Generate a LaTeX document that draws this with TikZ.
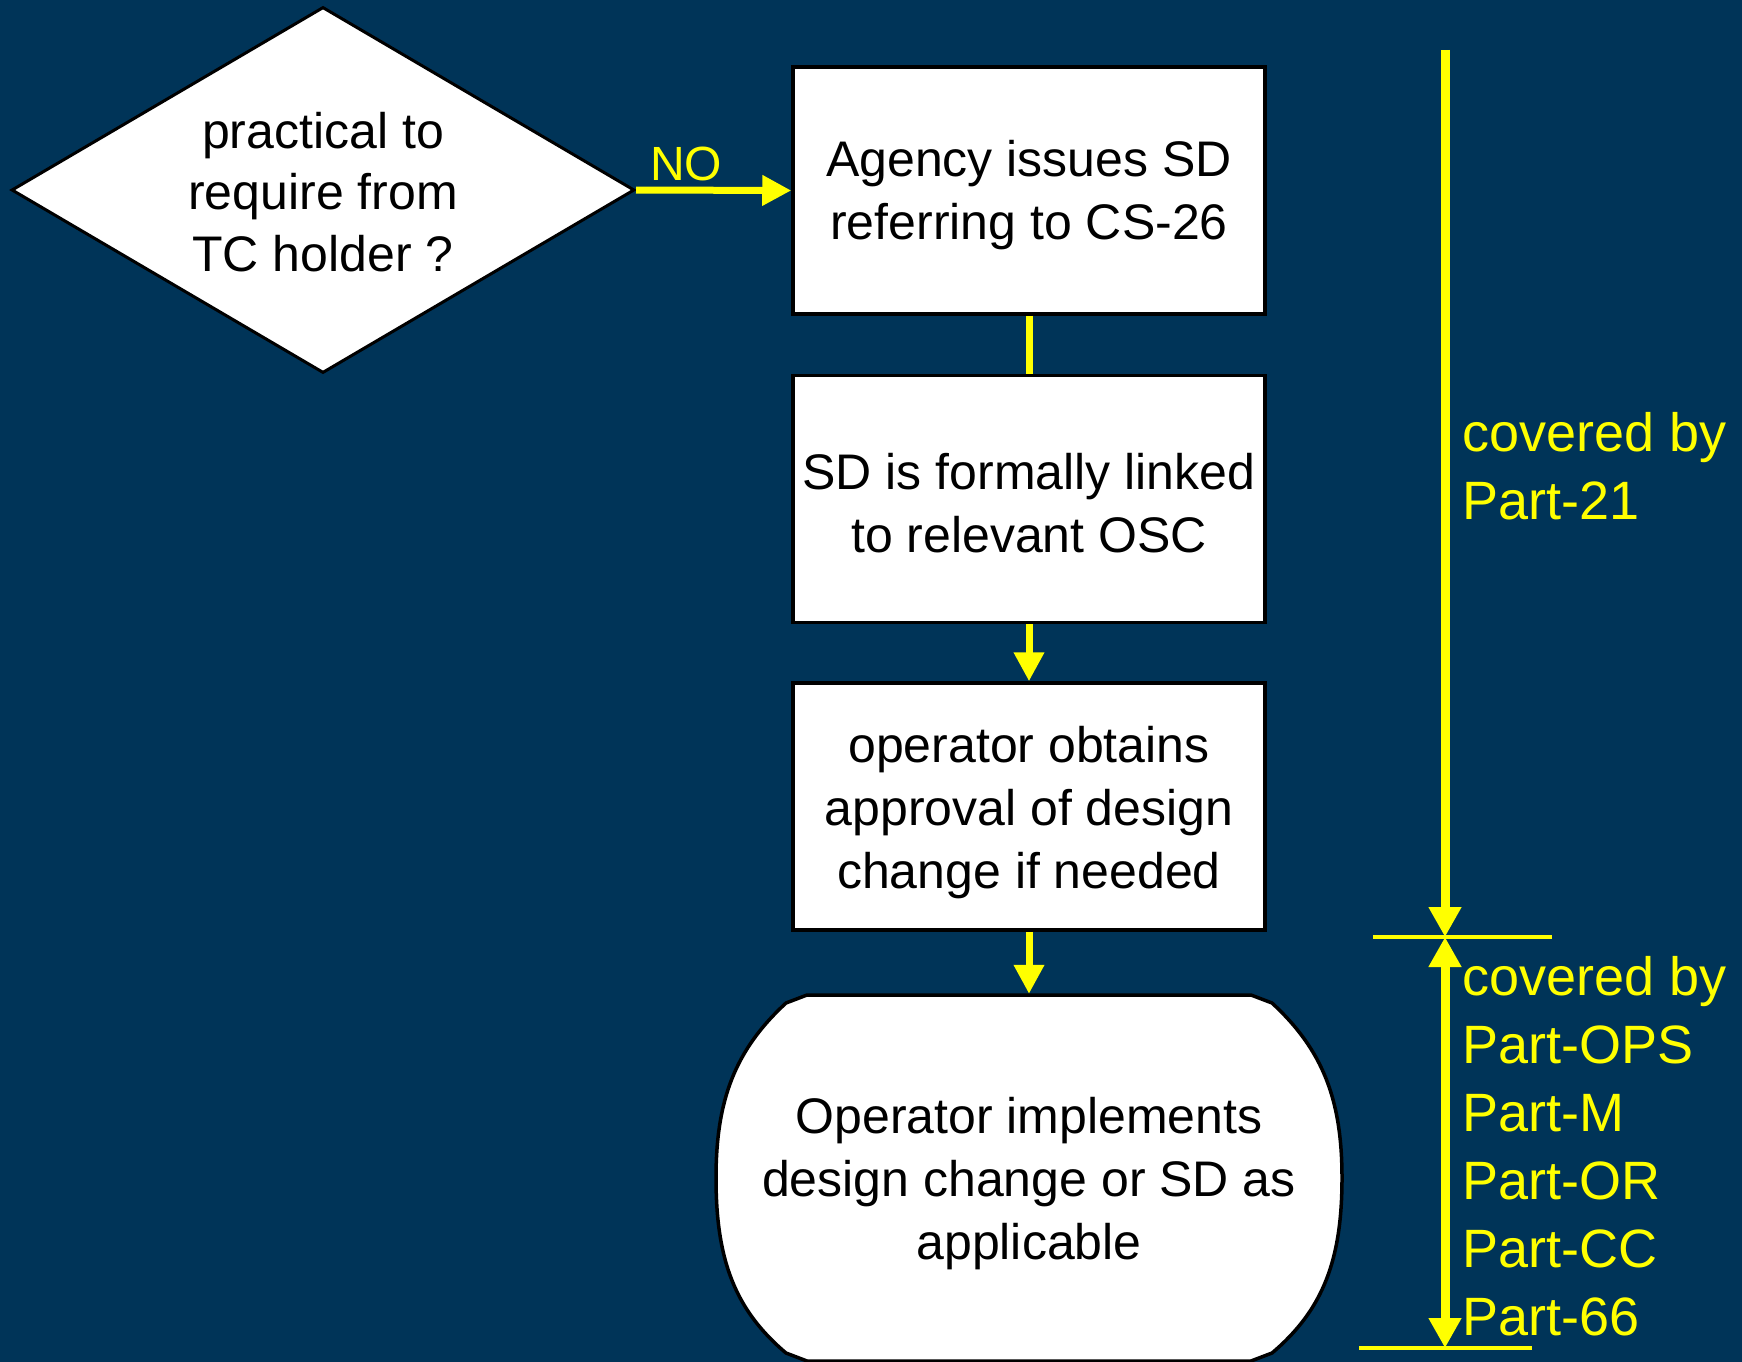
\documentclass[tikz,border=0pt]{standalone}
\usepackage{fontspec}
\setmainfont{Liberation Sans}
\usetikzlibrary{shapes.geometric,arrows.meta}
\definecolor{navy}{RGB}{0,52,88}
\definecolor{hiyellow}{RGB}{255,255,0}
\tikzset{
  flowtip/.tip={Triangle[length=29pt,width=29pt]},
  spantip/.tip={Triangle[length=30pt,width=31pt]}
}
% extra room above the first line of a box text
\newcommand{\toppad}[1]{\rule{0pt}{#1}}
\begin{document}
\begin{tikzpicture}[x=1pt,y=-1pt,
  stepbox/.style={draw=black, fill=white, line width=3.5pt,
    minimum width=472pt, minimum height=247pt, inner sep=0pt,
    align=center, font=\fontsize{50}{63}\selectfont},
  decision/.style={diamond, draw=black, fill=white, line width=3pt,
    aspect=1.7, minimum width=623pt, minimum height=366pt, inner sep=0pt,
    align=center, font=\fontsize{50}{61.5}\selectfont},
  flowline/.style={draw=hiyellow, line width=7pt},
  flow/.style={flowline, -flowtip},
  spanline/.style={draw=hiyellow, line width=9pt},
  tickline/.style={draw=hiyellow, line width=4pt},
  sidetext/.style={text=hiyellow, align=left, inner sep=0pt,
    font=\fontsize{54}{68}\selectfont}]

% page and background
\useasboundingbox (0,0) rectangle (1742,1362);
\fill[navy] (0,0) rectangle (1742,1362);

% decision
\node[decision] (q) at (323,190) {\toppad{40pt}practical to\\require from\\TC holder ?};

% process boxes
\node[stepbox] (b1) at (1029,190.5) {\toppad{46pt}Agency issues SD\\referring to CS-26};
\node[stepbox] (b2) at (1029,499) {\toppad{44pt}SD is formally linked\\to relevant OSC};
\node[stepbox] (b3) at (1029,806.5) {\toppad{48pt}operator obtains\\approval of design\\change if needed};

% terminal: outline with bulging sides
\filldraw[fill=white, draw=black, line width=3.5pt, line join=round]
  (807,995) -- (1251,995) -- (1272,1003)
  .. controls (1323,1050) and (1342,1100) .. (1342,1178)
  .. controls (1342,1260) and (1323,1310) .. (1272,1353)
  -- (1251,1361) -- (807,1361) -- (786,1353)
  .. controls (735,1310) and (716,1260) .. (716,1178)
  .. controls (716,1100) and (735,1050) .. (786,1003) -- cycle;
\node[minimum width=628pt, minimum height=368pt, inner sep=0pt,
  align=center, font=\fontsize{50}{63}\selectfont] (impl) at (1029,1178)
  {\toppad{47pt}Operator implements\\design change or SD as\\applicable};

% flow connectors
\draw[flow] (q.east) -- (b1.west);
\node[text=hiyellow, anchor=base west, inner sep=0pt,
  font=\fontsize{48}{58}\selectfont] (no) at (650,180) {NO};
\draw[flowline] (b1.south) -- (b2.north);
\draw[flow] (b2.south) -- (b3.north);
\draw[flow] (b3.south) -- (impl.north);

% responsibility spans
\coordinate (spantop) at (1445,50);
\coordinate (spansplit) at (1445,937);
\coordinate (spanbottom) at (1445,1348);
\coordinate (tickA1) at (1373,937);
\coordinate (tickA2) at (1552,937);
\coordinate (tickB1) at (1359,1348);
\coordinate (tickB2) at (1532,1348);
\draw[tickline] (tickA1) -- (tickA2);
\draw[tickline] (tickB1) -- (tickB2);
\draw[spanline, -spantip] (spantop) -- (spansplit);
\draw[spanline, spantip-spantip] (spansplit) -- (spanbottom);

\node[sidetext, anchor=north west] (part21) at (1462,412)
  {covered by\\Part-21};
\node[sidetext, anchor=north west] (partops) at (1462,956)
  {covered by\\Part-OPS\\Part-M\\Part-OR\\Part-CC\\Part-66};
\end{tikzpicture}
\end{document}
